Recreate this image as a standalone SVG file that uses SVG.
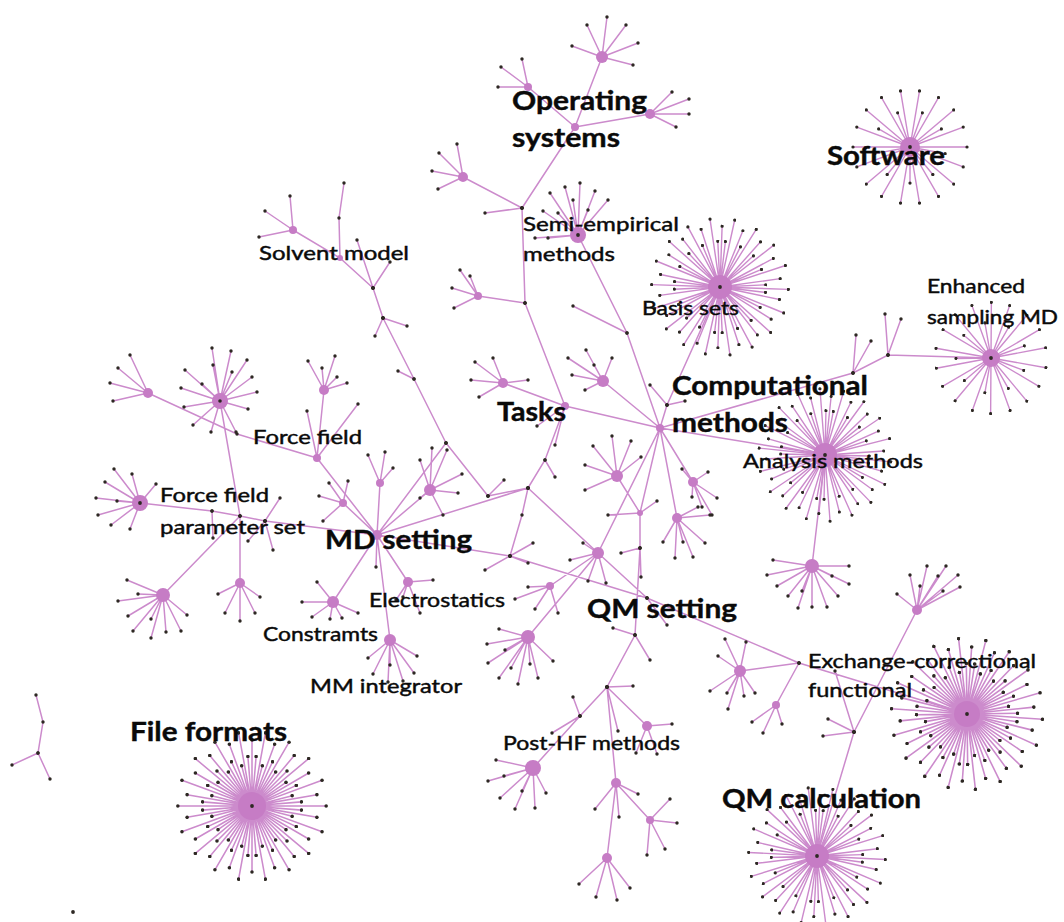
<svg xmlns="http://www.w3.org/2000/svg" xmlns:xlink="http://www.w3.org/1999/xlink" width="1064" height="922" viewBox="0 0 1064 922">
<style>
.t{fill:none;stroke:#cc8bcc;stroke-width:1.5;marker-start:url(#dot);marker-mid:url(#dot);marker-end:url(#dot)}
.s{fill:none;stroke:#cc8bcc;stroke-width:1.5;marker-mid:url(#dot);marker-end:url(#dot)}
.h{fill:#c67cc5}
.c{fill:#2d2823}
.lb{font-family:Lato,"Open Sans",sans-serif;font-weight:700;font-size:26px;fill:#0a0a0a;stroke:#0a0a0a;stroke-width:0.4}
.ls{font-family:Lato,"Open Sans",sans-serif;font-weight:400;font-size:20px;fill:#0a0a0a;stroke:#0a0a0a;stroke-width:0.45}
</style>
<defs>
<marker id="dot" viewBox="0 0 4 4" refX="2" refY="2" markerWidth="3.6" markerHeight="3.6" markerUnits="userSpaceOnUse"><circle cx="2" cy="2" r="1.9" fill="#2d2823"/></marker>
<!-- dense double ring of leaves -->
<path id="ringA" class="s" d="M0 0l72 0M0 0l63 11M0 0l68 25M0 0l55 32M0 0l55 46M0 0l41 49M0 0l36 62M0 0l22 60M0 0l13 71M0 0l0 64M0 0l-13 71M0 0l-22 60M0 0l-36 62M0 0l-41 49M0 0l-55 46M0 0l-55 32M0 0l-68 25M0 0l-63 11M0 0l-72 0M0 0l-63 -11M0 0l-68 -25M0 0l-55 -32M0 0l-55 -46M0 0l-41 -49M0 0l-36 -62M0 0l-22 -60M0 0l-13 -71M0 0l0 -64M0 0l13 -71M0 0l22 -60M0 0l36 -62M0 0l41 -49M0 0l55 -46M0 0l55 -32M0 0l68 -25M0 0l63 -11M0 0l48 4M0 0l39 10M0 0l43 20M0 0l33 23M0 0l34 34M0 0l23 33M0 0l20 43M0 0l10 39M0 0l4 48M0 0l-4 48M0 0l-10 39M0 0l-20 43M0 0l-23 33M0 0l-34 34M0 0l-33 23M0 0l-43 20M0 0l-39 10M0 0l-48 4M0 0l-48 -4M0 0l-39 -10M0 0l-43 -20M0 0l-33 -23M0 0l-34 -34M0 0l-23 -33M0 0l-20 -43M0 0l-10 -39M0 0l-4 -48M0 0l4 -48M0 0l10 -39M0 0l20 -43M0 0l23 -33M0 0l34 -34M0 0l33 -23M0 0l43 -20M0 0l39 -10M0 0l48 -4"/>
<!-- ring with a sparser inner circle -->
<path id="ringB" class="s" d="M0 0l72 0M0 0l63 11M0 0l68 25M0 0l55 32M0 0l55 46M0 0l41 49M0 0l36 62M0 0l22 60M0 0l13 71M0 0l0 64M0 0l-13 71M0 0l-22 60M0 0l-36 62M0 0l-41 49M0 0l-55 46M0 0l-55 32M0 0l-68 25M0 0l-63 11M0 0l-72 0M0 0l-63 -11M0 0l-68 -25M0 0l-55 -32M0 0l-55 -46M0 0l-41 -49M0 0l-36 -62M0 0l-22 -60M0 0l-13 -71M0 0l0 -64M0 0l13 -71M0 0l22 -60M0 0l36 -62M0 0l41 -49M0 0l55 -46M0 0l55 -32M0 0l68 -25M0 0l63 -11M0 0l48 4M0 0l43 20M0 0l34 34M0 0l20 43M0 0l4 48M0 0l-4 48M0 0l-20 43M0 0l-34 34M0 0l-43 20M0 0l-48 4M0 0l-48 -4M0 0l-43 -20M0 0l-34 -34M0 0l-20 -43M0 0l-4 -48M0 0l4 -48M0 0l20 -43M0 0l34 -34M0 0l43 -20M0 0l48 -4"/>
<!-- smaller ring -->
<path id="ringC" class="s" d="M0 0l60 0M0 0l56 21M0 0l46 39M0 0l30 52M0 0l10 59M0 0l-10 59M0 0l-30 52M0 0l-46 39M0 0l-56 21M0 0l-60 0M0 0l-56 -21M0 0l-46 -39M0 0l-30 -52M0 0l-10 -59M0 0l10 -59M0 0l30 -52M0 0l46 -39M0 0l56 -21M0 0l37 7M0 0l24 29M0 0l0 38M0 0l-24 29M0 0l-37 7M0 0l-33 -19M0 0l-13 -36M0 0l13 -36M0 0l33 -19"/>
</defs>
<rect width="1064" height="922" fill="#ffffff"/>

<g id="connectors">
<!-- tree edges between hubs and relay points -->
<path class="t" d="M602 57L575 127M528 87L575 127M650 114L575 127M575 127L522 208M463 177L522 208M522 208L485 213M522 208L525 303M478 296L525 303M525 303L565 406M293 230L340 258M344 183L339 218L340 258M340 258L373 288M373 288L357 240M373 288L390 262M373 288L383 318M383 318L407 326M383 318L375 336M383 318L414 379L446 443M414 379L398 371M446 443L377 535M446 443L488 496M488 496L504 480M488 496L528 488M377 535L528 488M528 488L545 460L565 406M545 460L555 477M565 406L555 445M565 406L537 426M528 488L522 515L510 556M510 556L485 570M510 556L533 543M510 556L528 563M377 535L510 556L647 598L799 663L967 714M528 488L598 553M565 406L503 383M565 406L660 428M603 381L660 428M578 235L627 333L660 428M573 306L627 333M720 287L667 405L660 428M667 405L650 385M667 405L685 401M660 428L853 373L888 355L991 358M856 335L853 373M871 341L853 373M888 355L885 314M888 355L901 319M660 428L825 455M825 455L812 566M660 428L693 482M660 428L677 518M660 428L598 553M660 428L640 513M640 513L617 476M640 513L608 515M640 513L657 501M640 513L640 548L635 635L607 687M640 548L621 553M640 548L641 577M598 553L550 586M598 553L528 637M598 553L647 598M647 598L667 625M635 635L613 628M635 635L650 660M607 687L633 686M607 687L580 716L533 768M580 716L552 733M580 716L573 697M607 687L647 726M607 687L618 731M607 687L616 783L607 858M616 783L650 820M799 663L740 671M799 663L776 705M835 671L854 732M854 732L917 610M854 732L817 856M854 732L828 719M854 732L823 736M377 535L317 458M317 458L324 390M317 458L307 411M317 458L358 404M317 458L237 434L148 393M220 401L240 516L240 583M140 503L212 511L240 516L265 521L377 535M212 511L213 538M265 521L280 498M265 521L273 550M265 521L248 541M163 595L240 516M377 535L333 602M377 535L390 640M377 535L408 582M377 535L380 483M377 535L343 503M377 535L430 490M377 535L376 567M36 695L43 722L38 753L50 779M12 765L38 753"/>
<!-- large stars -->
<use xlink:href="#ringA" href="#ringA" transform="translate(252 806) scale(1.03)"/>
<use xlink:href="#ringA" href="#ringA" transform="translate(967 714) rotate(4) scale(1.05)"/>
<use xlink:href="#ringB" href="#ringB" transform="translate(817 856) rotate(3) scale(0.95)"/>
<use xlink:href="#ringB" href="#ringB" transform="translate(825 455) rotate(6) scale(0.92)"/>
<use xlink:href="#ringB" href="#ringB" transform="translate(720 287) rotate(2) scale(0.95)"/>
<use xlink:href="#ringC" href="#ringC" transform="translate(910 147) scale(0.95)"/>
<use xlink:href="#ringC" href="#ringC" transform="translate(991 358) rotate(10) scale(0.93)"/>
<!-- small stars -->
<path class="s" transform="translate(602 57)" d="M0 0l5 -40M0 0l-15 -32M0 0l24 -32M0 0l36 -14M0 0l-30 -11M0 0l31 8"/>
<path class="s" transform="translate(528 87)" d="M0 0l-6 -28M0 0l-27 -20M0 0l-30 0"/>
<path class="s" transform="translate(650 114)" d="M0 0l22 -22M0 0l39 -15M0 0l39 0M0 0l26 13"/>
<path class="s" transform="translate(463 177)" d="M0 0l-6 -33M0 0l-24 -24M0 0l-31 -6M0 0l-25 12"/>
<path class="s" transform="translate(578 235)" d="M0 0l-13 -48M0 0l2 -52M0 0l17 -44M0 0l30 -35M0 0l-28 -42M0 0l-35 -24M0 0l-5 -35M0 0l10 -25M0 0l-43 3M0 0l-30 3M0 0l-20 -22"/>
<path class="s" transform="translate(293 230)" d="M0 0l-3 -34M0 0l-28 -19M0 0l-34 7"/>
<path class="s" transform="translate(503 383)" d="M0 0l-28 -21M0 0l-10 -25M0 0l-32 -3M0 0l-24 14M0 0l25 -3"/>
<path class="s" transform="translate(603 381)" d="M0 0l-17 -31M0 0l-35 -23M0 0l-31 -6M0 0l-18 9M0 0l-9 -16M0 0l9 -23"/>
<path class="s" transform="translate(148 393)" d="M0 0l-18 -38M0 0l-30 -25M0 0l-38 -10M0 0l-35 8"/>
<path class="s" transform="translate(220 401)" d="M0 0l-8 -53M0 0l11 -50M0 0l27 -41M0 0l32 -24M0 0l37 -9M0 0l28 8M0 0l12 -29M0 0l-7 -36M0 0l-18 -17M0 0l-35 -31M0 0l-39 -13M0 0l-36 6M0 0l-27 24M0 0l-9 31M0 0l16 31"/>
<path class="s" transform="translate(140 503)" d="M0 0l-26 -34M0 0l-8 -29M0 0l-35 -21M0 0l-44 -5M0 0l-23 -2M0 0l-42 12M0 0l-29 22M0 0l-10 26M0 0l16 -19"/>
<path class="s" transform="translate(163 595)" d="M0 0l-36 -15M0 0l-25 -1M0 0l-45 6M0 0l-35 21M0 0l-30 36M0 0l-12 43M0 0l3 37M0 0l18 36M0 0l-12 24M0 0l24 20"/>
<path class="s" transform="translate(240 583)" d="M0 0l-22 11M0 0l20 14M0 0l-15 30M0 0l0 38M0 0l15 30"/>
<path class="s" transform="translate(333 602)" d="M0 0l-16 -20M0 0l-31 0M0 0l-21 15M0 0l-3 17M0 0l9 16M0 0l25 11"/>
<path class="s" transform="translate(390 640)" d="M0 0l-22 18M0 0l-17 34M0 0l0 25M0 0l13 41M0 0l24 33M0 0l27 16M0 0l-2 42"/>
<path class="s" transform="translate(408 582)" d="M0 0l-5 15M0 0l25 -2M0 0l12 31M0 0l-12 18"/>
<path class="s" transform="translate(380 483)" d="M0 0l-12 -28M0 0l5 -31M0 0l13 -15"/>
<path class="s" transform="translate(343 503)" d="M0 0l-14 -20M0 0l5 -22M0 0l-24 -7M0 0l-20 18"/>
<path class="s" transform="translate(430 490)" d="M0 0l-10 -30M0 0l2 -42M0 0l17 -40M0 0l32 -16M0 0l28 3M0 0l13 25M0 0l-10 8"/>
<path class="s" transform="translate(324 390)" d="M0 0l-16 -29M0 0l-2 -22M0 0l11 -34M0 0l13 -13M0 0l23 -7"/>
<path class="s" transform="translate(598 553)" d="M0 0l-15 -10M0 0l-28 7M0 0l-10 28M0 0l8 30"/>
<path class="s" transform="translate(550 586)" d="M0 0l-22 1M0 0l-35 13M0 0l-15 23M0 0l8 27"/>
<path class="s" transform="translate(528 637)" d="M0 0l-29 -8M0 0l-41 7M0 0l-40 26M0 0l-29 41M0 0l-10 47M0 0l2 27M0 0l10 41M0 0l25 24M0 0l-23 13M0 0l-17 31"/>
<path class="s" transform="translate(740 671)" d="M0 0l-22 -15M0 0l-15 -32M0 0l6 -29M0 0l15 22M0 0l-12 38M0 0l-13 22M0 0l-30 20M0 0l4 25"/>
<path class="s" transform="translate(776 705)" d="M0 0l-24 17M0 0l-13 28M0 0l6 19"/>
<path class="s" transform="translate(917 610)" d="M0 0l-20 -16M0 0l-7 -35M0 0l3 -24M0 0l10 -44M0 0l21 -34M0 0l29 -44M0 0l26 -19M0 0l41 -35M0 0l43 -23"/>
<path class="s" transform="translate(812 566)" d="M0 0l-39 -6M0 0l-45 9M0 0l-35 20M0 0l-24 30M0 0l-14 42M0 0l0 41M0 0l15 41M0 0l26 30M0 0l37 18M0 0l37 0M0 0l20 10M0 0l-10 25"/>
<path class="s" transform="translate(617 476)" d="M0 0l-24 -30M0 0l-5 -40M0 0l14 -35M0 0l24 -19M0 0l-32 14M0 0l-32 -11"/>
<path class="s" transform="translate(693 482)" d="M0 0l-11 -13M0 0l15 -10M0 0l-1 15M0 0l9 25M0 0l19 33M0 0l24 16"/>
<path class="s" transform="translate(677 518)" d="M0 0l-14 24M0 0l-2 40M0 0l6 24M0 0l16 39M0 0l28 25M0 0l33 -3M0 0l21 -11"/>
<path class="s" transform="translate(533 768)" d="M0 0l-37 -8M0 0l-45 13M0 0l-29 8M0 0l-33 30M0 0l-18 41M0 0l2 40M0 0l-11 23M0 0l13 25"/>
<path class="s" transform="translate(647 726)" d="M0 0l25 -2M0 0l10 28M0 0l-11 27"/>
<path class="s" transform="translate(616 783)" d="M0 0l-21 26M0 0l3 34M0 0l22 11"/>
<path class="s" transform="translate(650 820)" d="M0 0l20 -21M0 0l27 3M0 0l15 29M0 0l-3 35"/>
<path class="s" transform="translate(607 858)" d="M0 0l-28 26M0 0l-11 39M0 0l10 42M0 0l23 30"/>
<path class="s" transform="translate(478 296)" d="M0 0l-26 -8M0 0l-18 -26M0 0l-24 12M0 0l-8 -20"/>
</g>

<g id="minor-hubs">
<g id="hub-os-top"><circle class="h" cx="602" cy="57" r="6"/></g>
<g id="hub-os-left"><circle class="h" cx="528" cy="87" r="4"/></g>
<g id="hub-os-right"><circle class="h" cx="650" cy="114" r="5"/></g>
<g id="hub-a1"><circle class="h" cx="463" cy="177" r="5"/></g>
<g id="hub-a2"><circle class="h" cx="293" cy="230" r="4"/></g>
<g id="hub-a3"><circle class="h" cx="478" cy="296" r="4"/></g>
<g id="hub-a4"><circle class="h" cx="503" cy="383" r="5"/></g>
<g id="hub-a5"><circle class="h" cx="603" cy="381" r="6"/></g>
<g id="hub-a6"><circle class="h" cx="148" cy="393" r="5"/></g>
<g id="hub-a7"><circle class="h" cx="220" cy="401" r="8"/><circle class="c" cx="220" cy="401" r="1.8"/></g>
<g id="hub-a8"><circle class="h" cx="163" cy="595" r="7"/></g>
<g id="hub-a9"><circle class="h" cx="240" cy="583" r="5"/></g>
<g id="hub-a10"><circle class="h" cx="324" cy="390" r="5"/></g>
<g id="hub-a11"><circle class="h" cx="380" cy="483" r="4"/></g>
<g id="hub-a12"><circle class="h" cx="343" cy="503" r="4"/></g>
<g id="hub-a13"><circle class="h" cx="430" cy="490" r="6"/></g>
<g id="hub-a14"><circle class="h" cx="550" cy="586" r="4"/></g>
<g id="hub-a15"><circle class="h" cx="528" cy="637" r="7"/></g>
<g id="hub-a16"><circle class="h" cx="740" cy="671" r="6"/></g>
<g id="hub-a17"><circle class="h" cx="776" cy="705" r="4"/></g>
<g id="hub-a18"><circle class="h" cx="917" cy="610" r="5"/></g>
<g id="hub-a19"><circle class="h" cx="812" cy="566" r="7"/></g>
<g id="hub-a20"><circle class="h" cx="617" cy="476" r="6"/></g>
<g id="hub-a21"><circle class="h" cx="693" cy="482" r="5"/></g>
<g id="hub-a22"><circle class="h" cx="677" cy="518" r="5"/></g>
<g id="hub-a23"><circle class="h" cx="647" cy="726" r="5"/></g>
<g id="hub-a24"><circle class="h" cx="616" cy="783" r="5"/></g>
<g id="hub-a25"><circle class="h" cx="650" cy="820" r="4"/></g>
<g id="hub-a26"><circle class="h" cx="607" cy="858" r="5"/></g>
<g id="hub-a27"><circle class="h" cx="640" cy="513" r="3"/></g>
<g id="isolated"><circle class="c" cx="73" cy="912" r="1.9"/></g>
</g>

<g id="n-operating-systems"><circle class="h" cx="575" cy="127" r="4"/><text class="lb" x="512" y="110" textLength="135" lengthAdjust="spacingAndGlyphs">Operating</text><text class="lb" x="512" y="147" textLength="108" lengthAdjust="spacingAndGlyphs">systems</text></g>
<g id="n-software"><circle class="h" cx="910" cy="147" r="10"/><circle class="c" cx="910" cy="147" r="1.9"/><text class="lb" x="827" y="165" textLength="118" lengthAdjust="spacingAndGlyphs">Software</text></g>
<g id="n-semi-empirical"><circle class="h" cx="578" cy="235" r="8"/><circle class="c" cx="578" cy="235" r="1.9"/><text class="ls" x="523" y="231" textLength="156" lengthAdjust="spacingAndGlyphs">Semi-empirical</text><text class="ls" x="523" y="261" textLength="92" lengthAdjust="spacingAndGlyphs">methods</text></g>
<g id="n-solvent-model"><circle class="h" cx="340" cy="258" r="3"/><text class="ls" x="259" y="260" textLength="150" lengthAdjust="spacingAndGlyphs">Solvent model</text></g>
<g id="n-basis-sets"><circle class="h" cx="720" cy="287" r="12"/><circle class="c" cx="720" cy="287" r="1.9"/><text class="ls" x="642" y="315" textLength="97" lengthAdjust="spacingAndGlyphs">Basis sets</text></g>
<g id="n-enhanced-sampling"><circle class="h" cx="991" cy="358" r="9"/><circle class="c" cx="991" cy="358" r="1.9"/><text class="ls" x="927" y="293" textLength="98" lengthAdjust="spacingAndGlyphs">Enhanced</text><text class="ls" x="927" y="324" textLength="131" lengthAdjust="spacingAndGlyphs">sampling MD</text></g>
<g id="n-tasks"><circle class="h" cx="565" cy="406" r="4"/><text class="lb" x="497" y="421" textLength="69" lengthAdjust="spacingAndGlyphs">Tasks</text></g>
<g id="n-computational-methods"><circle class="h" cx="660" cy="428" r="4"/><text class="lb" x="672" y="395" textLength="196" lengthAdjust="spacingAndGlyphs">Computational</text><text class="lb" x="672" y="432" textLength="116" lengthAdjust="spacingAndGlyphs">methods</text></g>
<g id="n-force-field"><circle class="h" cx="317" cy="458" r="4"/><text class="ls" x="253" y="444" textLength="109" lengthAdjust="spacingAndGlyphs">Force field</text></g>
<g id="n-analysis-methods"><circle class="h" cx="825" cy="455" r="12"/><circle class="c" cx="825" cy="455" r="1.9"/><text class="ls" x="743" y="468" textLength="180" lengthAdjust="spacingAndGlyphs">Analysis methods</text></g>
<g id="n-ff-parameter-set"><circle class="h" cx="140" cy="503" r="8"/><circle class="c" cx="140" cy="503" r="1.9"/><text class="ls" x="160" y="502" textLength="109" lengthAdjust="spacingAndGlyphs">Force field</text><text class="ls" x="160" y="534" textLength="145" lengthAdjust="spacingAndGlyphs">parameter set</text></g>
<g id="n-md-setting"><circle class="h" cx="377" cy="535" r="5"/><text class="lb" x="325" y="549" textLength="147" lengthAdjust="spacingAndGlyphs">MD setting</text></g>
<g id="n-electrostatics"><circle class="h" cx="408" cy="582" r="5"/><text class="ls" x="369" y="607" textLength="136" lengthAdjust="spacingAndGlyphs">Electrostatics</text></g>
<g id="n-qm-setting"><circle class="h" cx="598" cy="553" r="6"/><text class="lb" x="587" y="618" textLength="150" lengthAdjust="spacingAndGlyphs">QM setting</text></g>
<g id="n-constraints"><circle class="h" cx="333" cy="602" r="6"/><text class="ls" x="263" y="641" textLength="115" lengthAdjust="spacingAndGlyphs">Constramts</text></g>
<g id="n-mm-integrator"><circle class="h" cx="390" cy="640" r="6"/><text class="ls" x="310" y="693" textLength="152" lengthAdjust="spacingAndGlyphs">MM integrator</text></g>
<g id="n-exchange-correlation"><circle class="h" cx="967" cy="714" r="13"/><circle class="c" cx="967" cy="714" r="1.9"/><text class="ls" x="808" y="668" textLength="228" lengthAdjust="spacingAndGlyphs">Exchange-correctional</text><text class="ls" x="808" y="697" textLength="104" lengthAdjust="spacingAndGlyphs">functional</text></g>
<g id="n-post-hf"><circle class="h" cx="533" cy="768" r="8"/><text class="ls" x="503" y="750" textLength="177" lengthAdjust="spacingAndGlyphs">Post-HF methods</text></g>
<g id="n-file-formats"><circle class="h" cx="252" cy="806" r="14"/><circle class="c" cx="252" cy="806" r="1.9"/><text class="lb" x="130" y="741" textLength="157" lengthAdjust="spacingAndGlyphs">File formats</text></g>
<g id="n-qm-calculation"><circle class="h" cx="817" cy="856" r="12"/><circle class="c" cx="817" cy="856" r="1.9"/><text class="lb" x="722" y="808" textLength="199" lengthAdjust="spacingAndGlyphs">QM calculation</text></g>
</svg>
